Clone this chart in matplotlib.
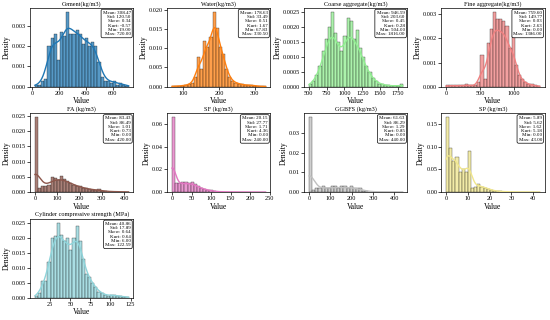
import numpy as np
import matplotlib
matplotlib.use("Agg")
import matplotlib.pyplot as plt
from matplotlib.colors import to_rgba
from matplotlib.ticker import MultipleLocator

plt.rcParams['font.family'] = ['Liberation Serif', 'DejaVu Serif']

# titles, colours and histogram ranges (min, max of each variable)
titles = ['Cement(kg/m3)', 'Water(kg/m3)', 'Coarse aggregate(kg/m3)', 'Fine aggregate(kg/m3)',
          'FA (kg/m3)', 'SF (kg/m3)', 'GGBFS (kg/m3)', 'SP (kg/m3)',
          'Cylinder compressive strength (MPa)']
colors = ['tab:blue', 'tab:orange', 'lightgreen', 'lightcoral', 'tab:brown', 'tab:pink',
          'silver', 'khaki', '#8ed4da']
ranges = [(19.0, 720.0), (67.83, 330.5), (504.0, 1816.0), (0.0, 1386.0), (0.0, 420.0),
          (0.0, 240.0), (0.0, 440.0), (0.0, 43.0), (6.0, 122.59)]
xstep = [200, 100, 250, 500, 100, 50, 100, 10, 25]

# density of each of the 30 bins (x 1e-3)
cement = [0.1, 0.1, 0.3, 0.4, 2.0, 2.4, 2.6, 1.3, 2.7, 2.5, 3.7, 2.6, 2.6, 2.8, 2.6,
          2.1, 2.4, 2.0, 2.2, 2.0, 1.2, 0.5, 0.3, 0.3, 0.2, 0.3, 0.1, 0.2, 0.1, 0.05]
water = [0.2, 0.1, 0.2, 0.3, 0.4, 0.6, 1.0, 2.5, 7.7, 4.5, 12.0, 10.3, 12.8, 19.5, 15.2,
         10.2, 8.6, 4.6, 2.4, 1.5, 1.0, 0.8, 0.6, 0.4, 0.5, 0.4, 0.3, 0.1, 0.1, 0.1]
coarse = [0.1, 0.2, 0.4, 0.7, 1.2, 1.6, 2.0, 2.5, 1.8, 1.5, 1.2, 1.7, 2.3, 2.2, 1.6,
          1.9, 1.3, 1.0, 0.7, 0.5, 0.3, 0.2, 0.1, 0.1, 0.05, 0.05, 0.03, 0.03, 0.03, 0.1]
fine = [0.05, 0.05, 0.05, 0.05, 0.05, 0.05, 0.1, 0.05, 0.05, 0.05, 0.2, 1.3, 0.3, 1.8, 2.4,
        3.1, 2.8, 2.8, 2.7, 2.5, 1.6, 2.1, 0.9, 0.5, 0.3, 0.2, 0.1, 0.1, 0.05, 0.03]
fa = [24.5, 1.5, 2.0, 2.0, 2.5, 5.0, 4.5, 4.0, 5.2, 4.2, 3.5, 3.0, 2.5, 2.0, 2.0,
      1.5, 1.2, 1.0, 0.8, 0.8, 0.9, 0.4, 0.3, 0.2, 0.2, 0.2, 0.1, 0.2, 0.1, 0.2]
sf = [66.0, 8.0, 8.0, 9.0, 9.0, 8.0, 9.0, 7.0, 5.0, 4.0, 3.0, 2.0, 1.5, 1.0, 0.5,
      0.5, 0.3, 0.3, 0.2, 0.2, 0.2, 0.1, 0.1, 0.1, 0.1, 0.1, 0.1, 0.05, 0.05, 0.1]
ggbfs = [38.0, 1.0, 2.0, 2.0, 3.0, 2.0, 2.0, 3.0, 3.0, 2.0, 3.0, 3.0, 2.0, 3.0, 2.0,
         2.0, 2.0, 0.7, 0.5, 0.3, 0.3, 0.2, 0.2, 0.1, 0.1, 0.1, 0.1, 0.0, 0.1, 0.1]
sp = [165.0, 97.0, 68.0, 77.0, 45.0, 50.0, 45.0, 90.0, 10.0, 12.0, 18.0, 12.0, 10.0, 8.0, 5.0,
      3.0, 2.0, 2.0, 1.0, 1.0, 1.0, 0.5, 0.5, 0.5, 0.5, 0.5, 0.3, 0.3, 0.3, 0.5]
cylinder = [0.5, 1.5, 5.5, 5.5, 12.0, 20.0, 20.5, 25.0, 21.0, 19.0, 20.0, 16.0, 20.0, 24.0, 19.0,
            13.0, 8.0, 7.0, 5.0, 3.5, 2.0, 1.5, 1.0, 0.5, 1.0, 1.0, 0.5, 0.5, 0.3, 0.2]
heights = [cement, water, coarse, fine, fa, sf, ggbfs, sp, cylinder]
# variables whose first bin is a pile of exact zeros
zero_spike = [False, False, False, False, True, True, True, True, False]

# summary statistics shown in the boxes
stats = [
    (308.47, 120.50, 0.34, -0.57, 19.00, 720.00),
    (178.63, 33.49, 0.51, 1.67, 67.83, 330.50),
    (946.59, 203.60, 0.45, 0.28, 504.00, 1816.00),
    (759.60, 149.77, 0.03, 2.63, 0.00, 1386.00),
    (83.43, 86.49, 1.01, 0.73, 0.00, 420.00),
    (20.15, 27.77, 1.71, 4.36, 0.00, 240.00),
    (61.63, 86.29, 1.29, 0.85, 0.00, 440.00),
    (5.89, 5.62, 1.62, 5.18, 0.00, 43.00),
    (40.86, 17.89, 0.64, 0.64, 6.00, 122.59),
]

fig, axes = plt.subplots(3, 4, figsize=(5.5, 3.2), dpi=100)
fig.subplots_adjust(left=0.055, right=0.99, bottom=0.07, top=0.975, wspace=0.33, hspace=0.34)

for i, ax in enumerate(axes.flat):
    if i >= len(titles):
        ax.axis('off')
        continue
    lo, hi = ranges[i]
    edges = np.linspace(lo, hi, len(heights[i]) + 1)
    dens = np.array(heights[i]) * 1e-3
    width = edges[1] - edges[0]
    centers = (edges[:-1] + edges[1:]) / 2
    ax.bar(edges[:-1], dens, width=width, align='edge',
           facecolor=to_rgba(colors[i], 0.75), edgecolor=(0, 0, 0, 0.7), linewidth=0.3)

    # smooth curve from the histogram (gaussian kernel, cut at data range)
    pos = centers.copy()
    if zero_spike[i]:
        pos[0] = lo
    w = dens * width
    w = w / w.sum()
    mu = np.sum(w * pos)
    sd = np.sqrt(np.sum(w * (pos - mu) ** 2))
    bw = 0.27 * sd
    xs = np.linspace(lo, hi, 300)
    ys = np.sum(w[None, :] * np.exp(-0.5 * ((xs[:, None] - pos[None, :]) / bw) ** 2), axis=1)
    ys = ys / (np.sqrt(2 * np.pi) * bw)
    ax.plot(xs, ys, color=colors[i], linewidth=1.0)

    ax.xaxis.set_major_locator(MultipleLocator(xstep[i]))
    ax.set_title(titles[i], fontsize=4.5, pad=2)
    ax.set_xlabel('Value', fontsize=5.5, labelpad=1)
    ax.set_ylabel('Density', fontsize=5.5, labelpad=1)
    ax.tick_params(labelsize=4.5, length=2, width=0.5, pad=1)
    for s in ax.spines.values():
        s.set_linewidth(0.5)

    m, sdv, sk, ku, mn, mx = stats[i]
    txt = (f'Mean: {m:.2f}\nStd: {sdv:.2f}\nSkew: {sk:.2f}\nKurt: {ku:.2f}\n'
           f'Min: {mn:.2f}\nMax: {mx:.2f}')
    ax.text(0.975, 0.965, txt, transform=ax.transAxes, fontsize=3.6, ha='right', va='top',
            multialignment='right', linespacing=1.1,
            bbox=dict(boxstyle='round,pad=0.3', facecolor='white', edgecolor='black', linewidth=0.5))

plt.savefig('out.png', dpi=100)
